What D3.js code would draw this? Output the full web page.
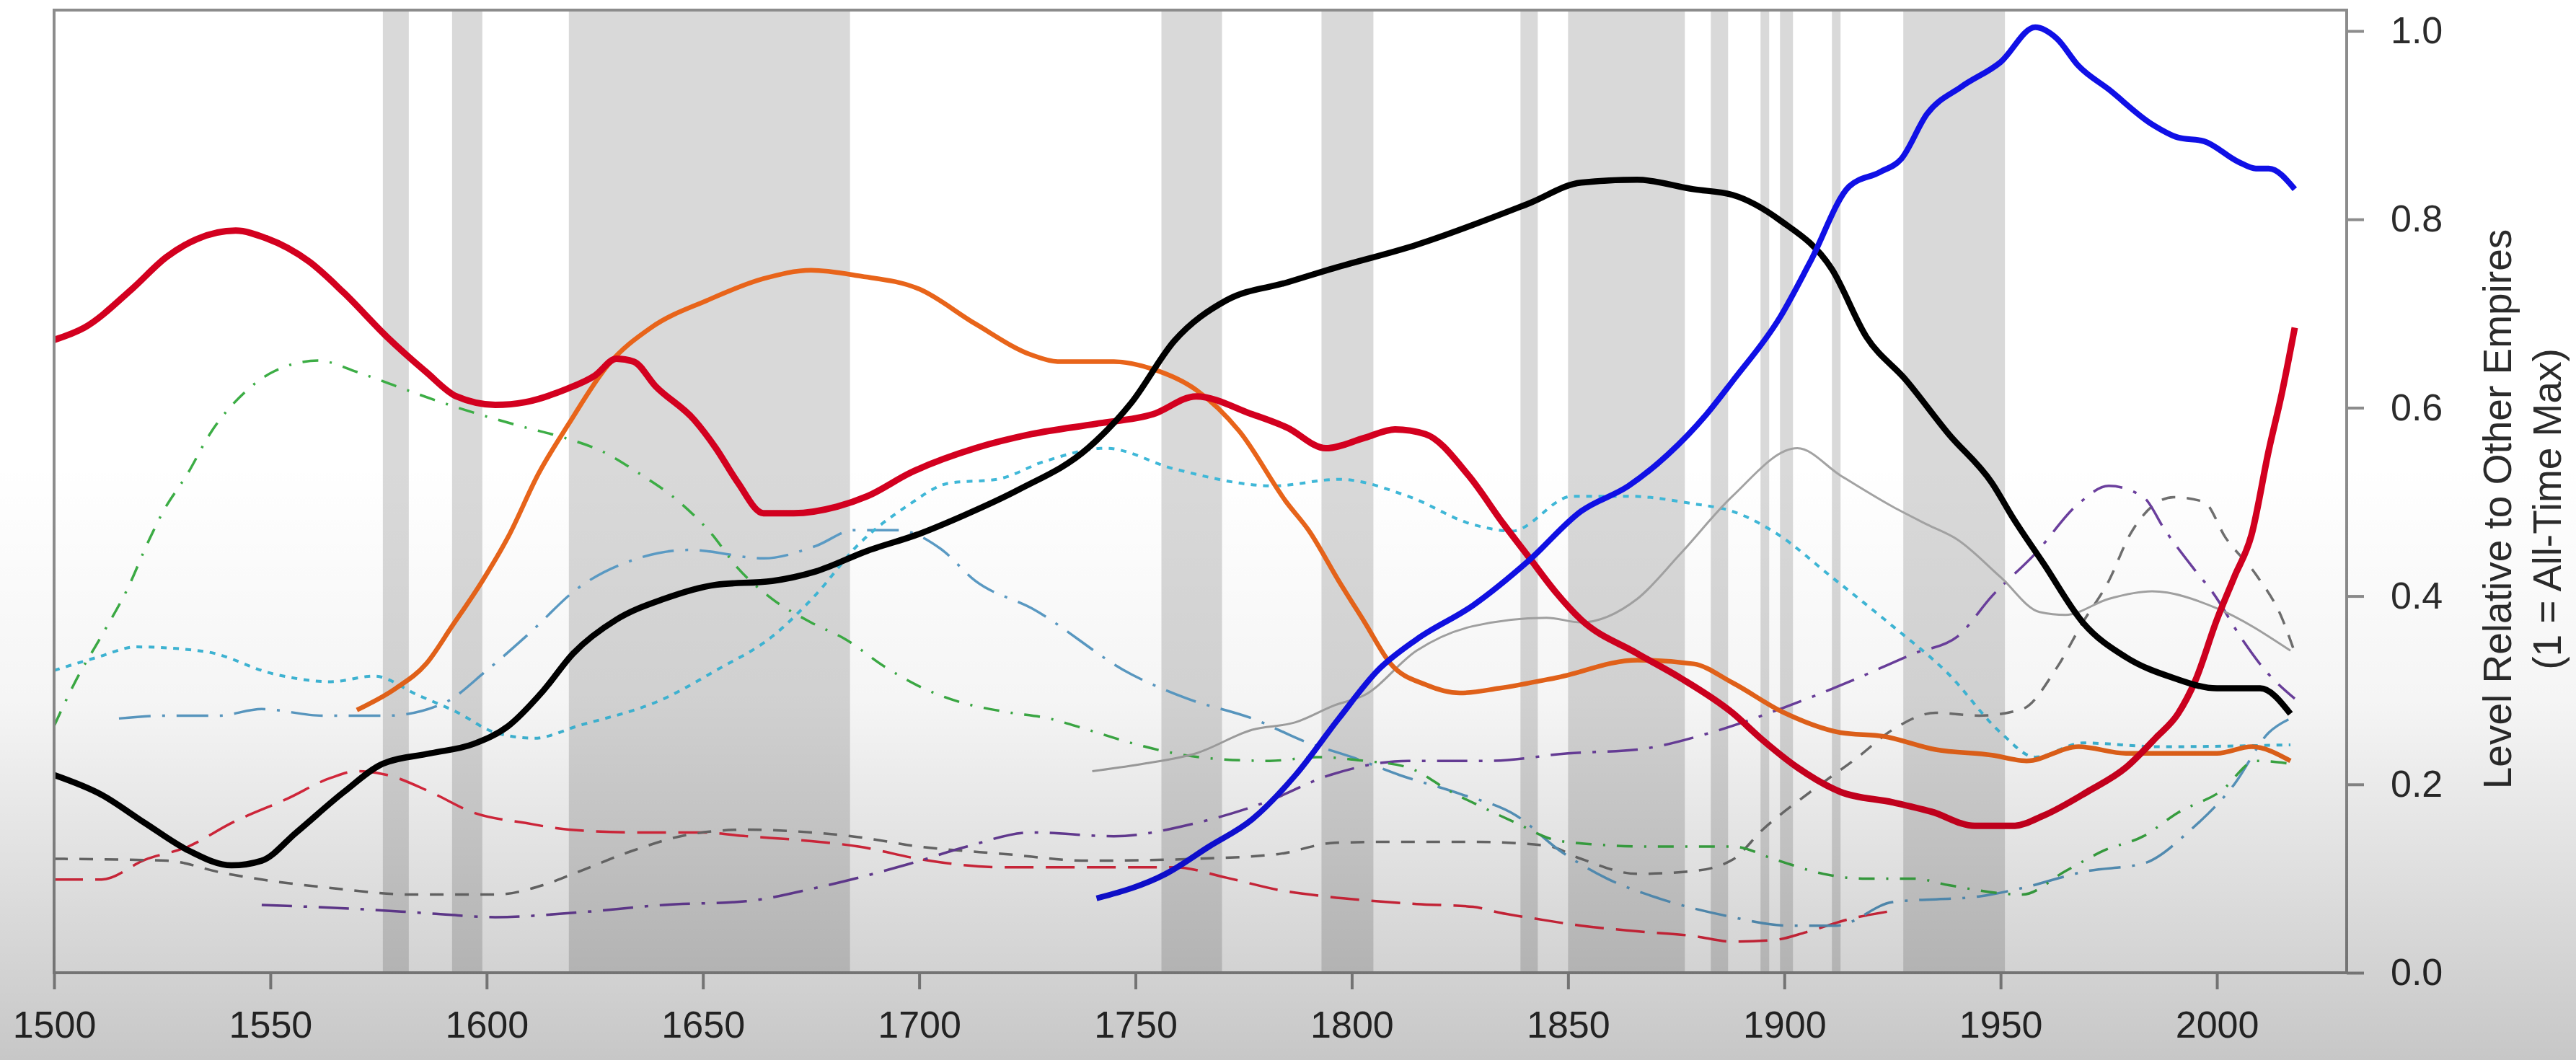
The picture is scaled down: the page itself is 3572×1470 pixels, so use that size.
<!DOCTYPE html>
<html>
<head>
<meta charset="utf-8">
<script src="https://cdn.jsdelivr.net/npm/d3@7"></script>
<style>
    body { margin: 0; background: #ffffff; }
    svg { display: block; }
    text { font-family: "Liberation Sans", Arial, sans-serif; fill: #2b2b2b; }
</style>
</head>
<body>
<div id="chart"></div>
<script>
// x ticks / y ticks
var xTicks = [1500, 1550, 1600, 1650, 1700, 1750, 1800, 1850, 1900, 1950, 2000];
var yTicks = [0, 0.2, 0.4, 0.6, 0.8, 1.0];

// shaded periods (years)
var bands = [[1576, 1582], [1592, 1599], [1619, 1684], [1756, 1770], [1793, 1805],
    [1839, 1843], [1850, 1877], [1883, 1887], [1894.5, 1896.5], [1899, 1902],
    [1911, 1913], [1927.5, 1951]];

// series values: [year, level]
var redSolid = [[1500,.672],[1507,.685],[1518,.726],[1526,.76],[1533,.779],[1542,.788],[1549,.78],[1559,.755],[1567,.722],[1577,.675],[1586,.638],[1593,.612],[1602,.603],[1609,.606],[1618,.619],[1625,.634],[1630,.652],[1634,.649],[1639,.623],[1648,.587],[1653,.557],[1658,.521],[1664,.488],[1671,.488],[1681,.495],[1688,.506],[1698,.531],[1713,.557],[1726,.572],[1741,.583],[1754,.593],[1764,.612],[1777,.593],[1785,.579],[1794,.557],[1803,.568],[1810,.577],[1817,.572],[1827,.528],[1835,.477],[1841,.441],[1847,.405],[1853,.375],[1866,.339],[1876,.313],[1888,.276],[1895,.247],[1903,.218],[1913,.192],[1925,.181],[1934,.171],[1944,.156],[1953,.156],[1960,.167],[1970,.192],[1979,.218],[1986,.25],[1991,.275],[1995,.31],[2000,.375],[2004,.42],[2008,.465],[2012,.555],[2015,.615],[2018,.685]];
var orangeSolid = [[1570,.279],[1579,.302],[1586,.328],[1592,.368],[1599,.416],[1605,.463],[1612,.53],[1619,.583],[1628,.645],[1638,.685],[1651,.714],[1664,.737],[1675,.746],[1686,.74],[1700,.726],[1713,.689],[1726,.656],[1732,.649],[1745,.649],[1754,.641],[1764,.619],[1774,.575],[1785,.499],[1790,.47],[1797,.416],[1803,.372],[1809,.328],[1817,.306],[1825,.297],[1834,.302],[1847,.313],[1866,.332],[1879,.328],[1888,.308],[1900,.276],[1913,.255],[1923,.251],[1935,.237],[1948,.231],[1956,.225],[1968,.24],[1979,.233],[2000,.233],[2008,.24],[2017,.225]];
var blackSolid = [[1500,.21],[1511,.189],[1521,.159],[1531,.13],[1541,.114],[1548,.119],[1556,.149],[1567,.192],[1576,.222],[1587,.233],[1597,.243],[1605,.262],[1613,.299],[1620,.339],[1630,.375],[1641,.397],[1653,.412],[1666,.416],[1676,.426],[1688,.448],[1700,.466],[1710,.485],[1723,.513],[1739,.557],[1749,.605],[1759,.671],[1771,.714],[1785,.733],[1795,.747],[1815,.773],[1841,.817],[1853,.839],[1866,.842],[1879,.832],[1888,.826],[1899,.799],[1911,.747],[1919,.675],[1928,.63],[1938,.572],[1948,.52],[1953,.482],[1960,.434],[1969,.372],[1979,.335],[1990,.313],[2000,.302],[2010,.302],[2017,.275]];
var blueSolid = [[1741,.079],[1757,.105],[1767,.134],[1777,.163],[1787,.21],[1797,.27],[1806,.321],[1815,.354],[1828,.39],[1841,.438],[1853,.49],[1864,.517],[1873,.55],[1882,.593],[1888,.628],[1899,.696],[1906,.755],[1915,.835],[1922,.85],[1927,.864],[1933,.912],[1941,.941],[1950,.967],[1958,1.004],[1963,.992],[1968,.963],[1975,.938],[1985,.901],[1991,.887],[1997,.883],[2005,.861],[2009,.854],[2012,.854],[2018,.832]];
var grayThin = [[1740,.214],[1752,.222],[1764,.233],[1777,.258],[1787,.266],[1796,.284],[1803,.295],[1815,.342],[1828,.368],[1845,.377],[1853,.372],[1866,.397],[1876,.445],[1888,.506],[1903,.557],[1913,.528],[1925,.495],[1933,.476],[1940,.46],[1950,.42],[1959,.383],[1965,.38],[1975,.397],[1985,.405],[2000,.387],[2017,.342]];
var greenDashDot = [[1500,.262],[1505,.31],[1511,.358],[1517,.408],[1522,.46],[1525,.488],[1531,.531],[1536,.572],[1544,.616],[1551,.639],[1561,.65],[1570,.638],[1579,.623],[1590,.605],[1599,.592],[1609,.579],[1618,.568],[1627,.553],[1635,.531],[1644,.502],[1652,.466],[1658,.43],[1666,.397],[1675,.372],[1683,.354],[1692,.325],[1701,.302],[1709,.288],[1720,.277],[1730,.27],[1739,.258],[1749,.244],[1759,.233],[1769,.227],[1781,.225],[1792,.229],[1803,.225],[1813,.218],[1823,.192],[1831,.174],[1838,.159],[1847,.141],[1857,.136],[1869,.134],[1888,.134],[1898,.12],[1909,.105],[1918,.1],[1930,.1],[1938,.093],[1955,.083],[1965,.108],[1974,.13],[1983,.145],[1991,.17],[2001,.193],[2009,.225],[2017,.222]];
var cyanDotted = [[1500,.321],[1510,.335],[1519,.346],[1535,.341],[1551,.317],[1564,.309],[1574,.315],[1584,.295],[1593,.277],[1602,.255],[1611,.249],[1621,.262],[1641,.291],[1653,.321],[1666,.357],[1676,.401],[1686,.455],[1697,.495],[1707,.52],[1718,.524],[1729,.543],[1743,.557],[1759,.535],[1782,.517],[1797,.524],[1813,.506],[1828,.476],[1837,.469],[1851,.506],[1864,.506],[1879,.498],[1888,.49],[1898,.467],[1911,.42],[1924,.372],[1938,.317],[1950,.255],[1958,.229],[1969,.244],[1987,.24],[2017,.242]];
var steelLongDash = [[1515,.27],[1526,.273],[1538,.273],[1548,.28],[1562,.273],[1577,.273],[1590,.286],[1600,.321],[1610,.361],[1621,.408],[1635,.44],[1647,.449],[1664,.44],[1676,.453],[1685,.47],[1695,.47],[1705,.45],[1713,.416],[1726,.387],[1749,.317],[1762,.291],[1777,.27],[1790,.244],[1800,.229],[1811,.21],[1825,.19],[1838,.167],[1848,.13],[1859,.1],[1871,.079],[1887,.06],[1901,.05],[1912,.05],[1925,.075],[1945,.081],[1955,.09],[1970,.108],[1983,.116],[1994,.152],[2004,.2],[2012,.255],[2017,.27]];
var redDashed = [[1500,.099],[1511,.099],[1521,.12],[1531,.134],[1541,.159],[1554,.185],[1564,.207],[1570,.214],[1577,.21],[1587,.192],[1597,.17],[1609,.159],[1619,.152],[1634,.149],[1650,.149],[1660,.145],[1672,.141],[1686,.134],[1701,.12],[1719,.112],[1739,.112],[1759,.112],[1771,.101],[1783,.088],[1794,.081],[1803,.077],[1815,.073],[1828,.07],[1834,.064],[1843,.057],[1853,.05],[1866,.044],[1879,.039],[1888,.033],[1898,.035],[1905,.043],[1915,.057],[1924,.065]];
var grayDashed = [[1500,.121],[1526,.119],[1539,.106],[1551,.097],[1564,.09],[1583,.083],[1602,.083],[1613,.093],[1620,.105],[1634,.13],[1647,.147],[1660,.152],[1672,.15],[1686,.144],[1700,.134],[1720,.126],[1739,.119],[1764,.121],[1783,.126],[1796,.138],[1809,.139],[1828,.139],[1845,.135],[1853,.121],[1866,.105],[1879,.108],[1888,.12],[1895,.152],[1906,.192],[1917,.229],[1925,.258],[1935,.276],[1945,.273],[1955,.28],[1963,.324],[1969,.372],[1975,.416],[1980,.466],[1990,.505],[1997,.5],[2002,.462],[2009,.423],[2015,.377],[2018,.34]];
var purpleDashDot = [[1548,.072],[1569,.068],[1587,.063],[1602,.059],[1621,.064],[1641,.072],[1660,.076],[1676,.09],[1686,.101],[1698,.116],[1711,.134],[1726,.149],[1745,.145],[1764,.159],[1780,.181],[1795,.21],[1813,.225],[1832,.225],[1850,.233],[1866,.237],[1883,.255],[1899,.28],[1915,.309],[1930,.339],[1940,.357],[1948,.4],[1958,.445],[1968,.498],[1975,.517],[1983,.505],[1988,.47],[1995,.427],[1999,.404],[2006,.353],[2011,.322],[2018,.291]];

var width = 3572,
    height = 1470,
    plot = { left: 75, right: 3254, top: 14, bottom: 1349 };

var svg = d3
    .select("#chart")
    .append("svg")
    .attr("width", width)
    .attr("height", height);

var x = d3.scaleLinear().domain([1500, 2030]).range([plot.left, plot.right]);
// 1.0 sits a little under the top of the box
var y = d3.scaleLinear().domain([0, 1]).range([plot.bottom, 43]);

// shaded periods
svg.append("g")
    .selectAll("rect")
    .data(bands)
    .enter()
    .append("rect")
    .attr("x", (d) => x(d[0]))
    .attr("width", (d) => x(d[1]) - x(d[0]))
    .attr("y", plot.top)
    .attr("height", plot.bottom - plot.top)
    .style("fill", "#d9d9d9");

// all series, thin ones first so the thick ones sit on top
var series = [
    { data: redDashed, color: "#e2293f", w: 3.5, dash: "40,17" },
    { data: grayDashed, color: "#6f6f6f", w: 3.5, dash: "19,16" },
    { data: purpleDashDot, color: "#6b3f9e", w: 3.5, dash: "42,16,5,16" },
    { data: steelLongDash, color: "#5b9cc6", w: 3.5, dash: "44,16,4,16" },
    { data: greenDashDot, color: "#3cad45", w: 3.5, dash: "22,16,3,16" },
    { data: cyanDotted, color: "#3fb8d8", w: 4, dash: "8,9" },
    { data: grayThin, color: "#a3a3a3", w: 3, dash: null },
    { data: orangeSolid, color: "#e8641a", w: 6.5, dash: null },
    { data: redSolid, color: "#d3001f", w: 9, dash: null },
    { data: blackSolid, color: "#000000", w: 8.5, dash: null },
    { data: blueSolid, color: "#1010e6", w: 8, dash: null }
];

var line = d3
    .line()
    .x((d) => x(d[0]))
    .y((d) => y(d[1]))
    .curve(d3.curveMonotoneX);

svg.append("g")
    .selectAll("path")
    .data(series)
    .enter()
    .append("path")
    .attr("d", (d) => line(d.data))
    .style("fill", "none")
    .style("stroke", (d) => d.color)
    .style("stroke-width", (d) => d.w)
    .style("stroke-dasharray", (d) => d.dash)
    .style("stroke-linejoin", "round");

// plot frame
svg.append("rect")
    .attr("x", plot.left)
    .attr("y", plot.top)
    .attr("width", plot.right - plot.left)
    .attr("height", plot.bottom - plot.top)
    .style("fill", "none")
    .style("stroke", "#8c8c8c")
    .style("stroke-width", 4);

// x axis (bottom)
var xAxis = svg.append("g")
    .attr("transform", "translate(0," + plot.bottom + ")")
    .call(d3.axisBottom(x).tickValues(xTicks).tickFormat(d3.format("d")).tickSize(23).tickPadding(30));
xAxis.select(".domain").remove();
xAxis.selectAll("line").style("stroke", "#8c8c8c").style("stroke-width", 4);
xAxis.selectAll("text")
    .style("font-size", "52px")
    .style("font-family", "Liberation Sans, Arial, sans-serif")
    .style("fill", "#2b2b2b");

// y axis (right)
var yAxis = svg.append("g")
    .attr("transform", "translate(" + plot.right + ",0)")
    .call(d3.axisRight(y).tickValues(yTicks).tickFormat(d3.format(".1f")).tickSize(24).tickPadding(37));
yAxis.select(".domain").remove();
yAxis.selectAll("line").style("stroke", "#8c8c8c").style("stroke-width", 4);
yAxis.selectAll("text")
    .style("font-size", "52px")
    .style("font-family", "Liberation Sans, Arial, sans-serif")
    .style("fill", "#2b2b2b");

// axis title, two lines
var title = svg.append("text")
    .attr("transform", "translate(3482,706) rotate(-90)")
    .attr("text-anchor", "middle")
    .style("font-size", "55px");
title.append("tspan").attr("x", 0).attr("y", 0).text("Level Relative to Other Empires");
title.append("tspan").attr("x", 0).attr("y", 69).text("(1 = All-Time Max)");

// the screenshot darkens toward the bottom
var grad = svg.append("defs")
    .append("linearGradient")
    .attr("id", "shade")
    .attr("x1", 0).attr("x2", 0).attr("y1", 0).attr("y2", 1);
grad.append("stop").attr("offset", "0%").attr("stop-color", "#000").attr("stop-opacity", 0);
grad.append("stop").attr("offset", "40%").attr("stop-color", "#000").attr("stop-opacity", 0.04);
grad.append("stop").attr("offset", "100%").attr("stop-color", "#000").attr("stop-opacity", 0.22);
svg.append("rect")
    .attr("x", 0)
    .attr("y", 640)
    .attr("width", width)
    .attr("height", height - 640)
    .style("fill", "url(#shade)")
    .style("pointer-events", "none");
</script>
</body>
</html>
